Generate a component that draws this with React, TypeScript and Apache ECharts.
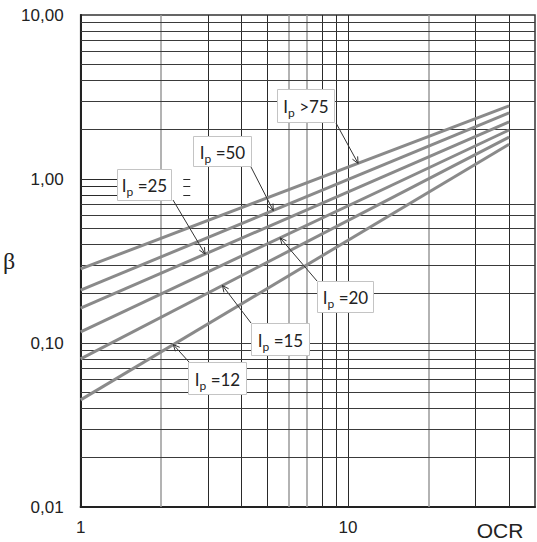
import React, { useEffect, useRef } from 'react';
import * as echarts from 'echarts';

// ---- data ----
const ocrEnds = [1, 40];
const ip75 = [0.283, 2.79];
const ip50 = [0.21, 2.53];
const ip25 = [0.163, 2.23];
const ip20 = [0.117, 1.99];
const ip15 = [0.08, 1.8];
const ip12 = [0.045, 1.63];
const seriesNames = ['Ip >75', 'Ip =50', 'Ip =25', 'Ip =20', 'Ip =15', 'Ip =12'];
const labelTexts = ['>75', '=50', '=25', '=20', '=15', '=12'];
const xTickLabels = [1, 10];
const xGridDark = [3, 4, 5, 8, 9, 10, 30, 40];
const xGridLight = [2, 6, 7, 20];
const yGridFull = [0.02, 0.03, 0.04, 0.05, 0.06, 0.07, 0.08, 0.09, 0.1, 0.2, 0.3, 0.4, 0.5, 0.6, 0.7, 2, 3, 4, 5, 6, 7, 8, 9];
const yGridPartial = [0.8, 0.9, 1];
const partialSegA = [1, 1.4];
const partialSegB = [2.42, 2.57];
// OCR value where each label's arrow points to its line
const arrowTipOcr = [10.9, 5.25, 2.92, 5.57, 3.39, 2.22];

// ---- layout (pixels) ----
const boxes = [
  { x: 277, y: 89, w: 57, h: 33, tail: [336, 123] },
  { x: 193, y: 136, w: 58, h: 30, tail: [251, 167] },
  { x: 117, y: 169, w: 54, h: 31, tail: [173, 200] },
  { x: 317, y: 281, w: 56, h: 31, tail: [317, 281] },
  { x: 251, y: 323, w: 58, h: 32, tail: [251, 323] },
  { x: 188, y: 362, w: 58, h: 32, tail: [189, 362] },
];

const allSeries = [ip75, ip50, ip25, ip20, ip15, ip12];

function interpLog(vals: number[], x: number) {
  const lx0 = Math.log10(ocrEnds[0]);
  const lx1 = Math.log10(ocrEnds[1]);
  const t = (Math.log10(x) - lx0) / (lx1 - lx0);
  const ly = Math.log10(vals[0]) + (Math.log10(vals[1]) - Math.log10(vals[0])) * t;
  return Math.pow(10, ly);
}

export default function App() {
  const ref = useRef<HTMLDivElement>(null);
  useEffect(() => {
    if (!ref.current) return;
    const chart = echarts.init(ref.current, undefined, { renderer: 'svg' });
    const gridLines: any[] = [];
    xGridDark.forEach((v) => gridLines.push({ xAxis: v, lineStyle: { color: '#2a2a2a', width: 1 } }));
    xGridLight.forEach((v) => gridLines.push({ xAxis: v, lineStyle: { color: '#9a9a9a', width: 1.5 } }));
    yGridFull.forEach((v) => gridLines.push({ yAxis: v, lineStyle: { color: '#3a3a3a', width: 1 } }));
    yGridPartial.forEach((v) => {
      gridLines.push([
        { coord: [partialSegA[0], v], lineStyle: { color: '#2a2a2a', width: 1 } },
        { coord: [partialSegA[1], v] },
      ]);
      gridLines.push([
        { coord: [partialSegB[0], v], lineStyle: { color: '#2a2a2a', width: 1 } },
        { coord: [partialSegB[1], v] },
      ]);
    });

    const series: any[] = [
      {
        type: 'line',
        name: 'grid',
        data: [],
        silent: true,
        z: 1,
        markLine: {
          silent: true,
          symbol: 'none',
          label: { show: false },
          lineStyle: { type: 'solid' },
          data: gridLines,
        },
      },
    ];
    allSeries.forEach((vals, i) => {
      series.push({
        type: 'line',
        name: seriesNames[i],
        data: ocrEnds.map((x, j) => [x, vals[j]]),
        showSymbol: false,
        symbol: 'none',
        z: 5,
        lineStyle: { color: '#8a8a8a', width: 3 },
      });
    });

    chart.setOption({
      animation: false,
      textStyle: { fontFamily: 'Liberation Sans' },
      grid: {
        left: 80,
        top: 15,
        right: 2,
        bottom: 35,
        show: true,
        borderColor: '#333',
        borderWidth: 1.5,
        containLabel: false,
      },
      xAxis: {
        type: 'log',
        logBase: 10,
        min: 1,
        max: 50,
        axisLine: { show: true, lineStyle: { color: '#222', width: 2 } },
        axisTick: { show: false },
        splitLine: { show: false },
        axisLabel: {
          margin: 12,
          fontSize: 17,
          color: '#222',
          showMaxLabel: false,
          formatter: (v: number) =>
            xTickLabels.some((t) => Math.abs(t - v) < 1e-6 * t) ? String(Math.round(v)) : '',
        },
      },
      yAxis: {
        type: 'log',
        logBase: 10,
        min: 0.01,
        max: 10,
        name: 'β',
        nameLocation: 'middle',
        nameRotate: 0,
        nameGap: 34,
        nameTextStyle: { fontFamily: 'Liberation Serif', fontSize: 24, color: '#222', padding: [14, 0, 0, 0] },
        axisLine: { show: true, lineStyle: { color: '#222', width: 2 } },
        axisTick: { show: false },
        splitLine: { show: false },
        axisLabel: {
          margin: 17,
          fontSize: 17,
          color: '#222',
          formatter: (v: number) => v.toFixed(2).replace('.', ','),
        },
      },
      series,
    });

    const graphics: any[] = [
      {
        type: 'text',
        x: 500,
        y: 530,
        z: 100,
        style: {
          text: 'OCR',
          fontFamily: 'Liberation Sans',
          fontSize: 21,
          fill: '#222',
          align: 'center',
          verticalAlign: 'middle',
        },
      },
    ];
    boxes.forEach((b, i) => {
      const tipData = [arrowTipOcr[i], interpLog(allSeries[i], arrowTipOcr[i])];
      const tip = chart.convertToPixel({ gridIndex: 0 }, tipData) as number[];
      const tail = b.tail;
      const dx = tip[0] - tail[0];
      const dy = tip[1] - tail[1];
      const len = Math.sqrt(dx * dx + dy * dy);
      const ux = dx / len;
      const uy = dy / len;
      const ang = (25 * Math.PI) / 180;
      const hs = 7;
      const rot = (a: number) => [
        tip[0] - hs * (ux * Math.cos(a) - uy * Math.sin(a)),
        tip[1] - hs * (ux * Math.sin(a) + uy * Math.cos(a)),
      ];
      graphics.push({
        type: 'line',
        z: 90,
        shape: { x1: tail[0], y1: tail[1], x2: tip[0], y2: tip[1] },
        style: { stroke: '#333', lineWidth: 1 },
      });
      graphics.push({
        type: 'polyline',
        z: 90,
        shape: { points: [rot(ang), tip, rot(-ang)] },
        style: { stroke: '#333', lineWidth: 1, fill: null },
      });
      graphics.push({
        type: 'group',
        x: b.x,
        y: b.y,
        z: 100,
        children: [
          {
            type: 'rect',
            z: 100,
            shape: { x: 0.5, y: 0.5, width: b.w, height: b.h },
            style: { fill: '#fff', stroke: '#c4c4c4', lineWidth: 1 },
          },
          {
            type: 'text',
            z: 101,
            x: b.w / 2 + 0.5,
            y: b.h / 2 + 1,
            style: {
              text: '{a|I}{b|p}{a| ' + labelTexts[i] + '}',
              align: 'center',
              verticalAlign: 'middle',
              rich: {
                a: { fontFamily: 'Lato', fontSize: 17, fill: '#222', lineHeight: 24 },
                b: { fontFamily: 'Lato', fontSize: 12, fill: '#222', lineHeight: 12, verticalAlign: 'bottom' },
              },
            },
          },
        ],
      });
    });
    chart.setOption({ graphic: graphics });

    return () => chart.dispose();
  }, []);
  return (
    <div
      ref={ref}
      style={{ position: 'absolute', left: 0, top: 0, width: 537, height: 542, background: '#fff' }}
    />
  );
}
